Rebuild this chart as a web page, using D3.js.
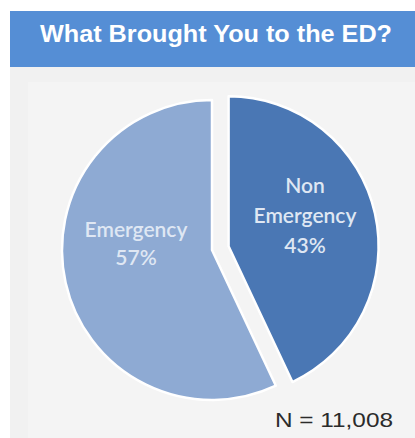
<!DOCTYPE html>
<html><head><meta charset="utf-8">
<script src="https://cdn.jsdelivr.net/npm/d3@7"></script>
<style>body{margin:0;background:#fff}svg{display:block}</style>
</head><body>
<script>
const title = "What Brought You to the ED?";
const categories = ["Non Emergency", "Emergency"];
const labelLines = [["Non", "Emergency"], ["Emergency"]];
const values = [43, 57];
const colors = ["#4a77b4", "#8eaad3"];
const exploded = [true, false];
const note = "N = 11,008";

const W = 415, H = 438;
const svg = d3.select("body").append("svg").attr("width", W).attr("height", H);

// header band
svg.append("rect").attr("x", 10).attr("y", 11).attr("width", W - 10).attr("height", 56).attr("fill", "#558ed5");
svg.append("text").attr("x", 40).attr("y", 42)
  .attr("fill", "#fff").attr("font-family", "Liberation Sans, Arial, sans-serif")
  .attr("font-weight", "bold").attr("font-size", 24)
  .attr("textLength", 352).attr("lengthAdjust", "spacingAndGlyphs").text(title);

// panel
svg.append("rect").attr("x", 10).attr("y", 67).attr("width", W - 10).attr("height", H - 67).attr("fill", "#f1f1f1");
svg.append("rect").attr("x", 28).attr("y", 82).attr("width", W - 28).attr("height", H - 82)
  .attr("fill", "#f4f4f4");

const cx = 212, cy = 250, R = 150, explode = 17;
const pie = d3.pie().sort(null).value(d => d)(values);
const arc = d3.arc().innerRadius(0).outerRadius(R);

const g = svg.append("g").attr("transform", `translate(${cx},${cy})`);
const slices = g.selectAll("g.slice").data(pie).join("g").attr("class", "slice")
  .attr("transform", (d, i) => {
    if (!exploded[i]) return null;
    const a = (d.startAngle + d.endAngle) / 2;
    return `translate(${Math.sin(a) * explode},${-Math.cos(a) * explode})`;
  });
slices.append("path").attr("d", arc).attr("fill", (d, i) => colors[i])
  .attr("stroke", "#ffffff").attr("stroke-width", 2.5).attr("stroke-linejoin", "round");

// label anchor positions relative to pie centre (first-line baseline), and line gaps
const lblPos = [[93, -57], [-76, -13]];
const lblGap = [30, 28];
slices.each(function(d, i) {
  const t = d3.select(this).append("text").attr("text-anchor", "middle")
    .attr("fill", "#dfe7f3").attr("font-family", "Lato, 'Open Sans', sans-serif")
    .attr("font-weight", 600).attr("font-size", 21);
  const lines = labelLines[i].concat([values[i] + "%"]);
  const [lx, ly] = lblPos[i];
  const a = (d.startAngle + d.endAngle) / 2;
  const ox = exploded[i] ? Math.sin(a) * explode : 0;
  const oy = exploded[i] ? -Math.cos(a) * explode : 0;
  lines.forEach((s, k) => {
    t.append("tspan").attr("x", lx - ox).attr("y", ly - oy + k * lblGap[i]).text(s);
  });
});

svg.append("text").attr("x", 275).attr("y", 427)
  .attr("fill", "#2b2b2b").attr("font-family", "Liberation Sans, Arial, sans-serif")
  .attr("font-size", 21).attr("textLength", 118).attr("lengthAdjust", "spacingAndGlyphs").text(note);
</script>
</body></html>
